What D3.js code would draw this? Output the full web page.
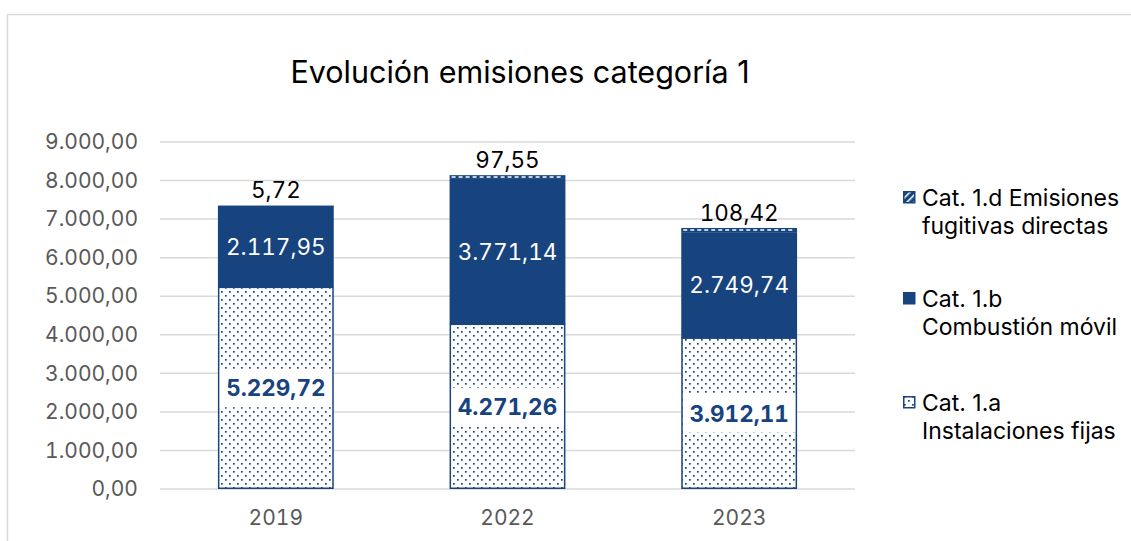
<!DOCTYPE html>
<html>
<head>
<meta charset="utf-8">
<script src="https://cdn.jsdelivr.net/npm/d3@7"></script>
<style>
  body { margin: 0; background: #fff; }
  svg { display: block; font-family: Inter, "Liberation Sans", Arial, sans-serif; }
  .num { font-variant-numeric: tabular-nums; }
</style>
</head>
<body>
<div id="chart"></div>
<script>
const years = ["2019", "2022", "2023"];
const cat1a = [5229.72, 4271.26, 3912.11];   // Instalaciones fijas
const cat1b = [2117.95, 3771.14, 2749.74];   // Combustión móvil
const cat1d = [5.72, 97.55, 108.42];         // Emisiones fugitivas directas
const yTicks = [0, 1000, 2000, 3000, 4000, 5000, 6000, 7000, 8000, 9000];

const W = 1131, H = 541;
const blue = "#17437f";
const font = "Inter, Liberation Sans, Arial, sans-serif";
const margin = { top: 142, right: 276, bottom: 52, left: 160 };
const width = W - margin.left - margin.right;
const height = H - margin.top - margin.bottom;

const fmt = v => {
  const [i, d] = v.toFixed(2).split(".");
  return i.replace(/\B(?=(\d{3})+(?!\d))/g, ".") + "," + d;
};

const svg = d3.select("#chart").append("svg").attr("width", W).attr("height", H);

const defs = svg.append("defs");
const dots = defs.append("pattern").attr("id", "dots")
  .attr("patternUnits", "userSpaceOnUse").attr("width", 8).attr("height", 8);
dots.append("rect").attr("width", 8).attr("height", 8).attr("fill", "#fff");
dots.append("rect").attr("x", 1).attr("y", 1).attr("width", 1.7).attr("height", 1.7).attr("fill", blue);
dots.append("rect").attr("x", 5).attr("y", 5).attr("width", 1.7).attr("height", 1.7).attr("fill", blue);

const hatch = defs.append("pattern").attr("id", "hatch")
  .attr("patternUnits", "userSpaceOnUse").attr("width", 5).attr("height", 5)
  .attr("patternTransform", "rotate(-45)");
hatch.append("rect").attr("width", 5).attr("height", 5).attr("fill", blue);
hatch.append("rect").attr("width", 5).attr("height", 1.5).attr("fill", "#fff");

// chart frame
svg.append("rect").attr("x", 7.5).attr("y", 14.5).attr("width", W).attr("height", H)
  .attr("fill", "none").attr("stroke", "#d9d9d9").attr("stroke-width", 1.5);

svg.append("text").attr("x", 520).attr("y", 72).attr("dy", "0.35em").attr("text-anchor", "middle")
  .attr("font-size", 30.5).attr("fill", "#000").text("Evolución emisiones categoría 1");

const g = svg.append("g").attr("transform", `translate(${margin.left},${margin.top})`);

const x = d3.scaleBand().domain(years).range([0, width]).paddingInner(0.5).paddingOuter(0.25);
const y = d3.scaleLinear().domain([0, 9000]).range([height, 0]);

g.append("g").selectAll("line").data(yTicks).join("line")
  .attr("x1", 0).attr("x2", width)
  .attr("y1", d => y(d)).attr("y2", d => y(d))
  .attr("stroke", "#d9d9d9").attr("stroke-width", 1.5);

const yAxis = g.append("g").call(d3.axisLeft(y).tickValues(yTicks).tickFormat(fmt).tickSize(0).tickPadding(22));
yAxis.select(".domain").remove();
yAxis.selectAll("text").attr("class", "num").attr("font-size", 21).attr("fill", "#595959").attr("font-family", font);

const xAxis = g.append("g").attr("transform", `translate(0,${height})`)
  .call(d3.axisBottom(x).tickSize(0).tickPadding(21));
xAxis.select(".domain").remove();
xAxis.selectAll("text").attr("class", "num").attr("font-size", 21).attr("fill", "#595959").attr("font-family", font);

const rows = years.map((yr, i) => ({ yr, a: cat1a[i], b: cat1b[i], d: cat1d[i] }));

// Cat 1.a
g.selectAll(".ba").data(rows).join("rect").attr("class", "ba")
  .attr("x", d => x(d.yr) + 0.75).attr("width", x.bandwidth() - 1.5)
  .attr("y", d => y(d.a)).attr("height", d => y(0) - y(d.a) - 0.75)
  .attr("fill", "url(#dots)").attr("stroke", blue).attr("stroke-width", 1.5);

// Cat 1.b
g.selectAll(".bb").data(rows).join("rect").attr("class", "bb")
  .attr("x", d => x(d.yr)).attr("width", x.bandwidth())
  .attr("y", d => y(d.a + d.b)).attr("height", d => y(d.a) - y(d.a + d.b))
  .attr("fill", blue);

// Cat 1.d
g.selectAll(".bd").data(rows).join("rect").attr("class", "bd")
  .attr("x", d => x(d.yr)).attr("width", x.bandwidth())
  .attr("y", d => y(d.a + d.b + d.d)).attr("height", d => y(d.a + d.b) - y(d.a + d.b + d.d))
  .attr("fill", blue);
g.selectAll(".bdl").data(rows.filter(d => y(d.a + d.b) - y(d.a + d.b + d.d) > 2)).join("line").attr("class", "bdl")
  .attr("x1", d => x(d.yr) + 2).attr("x2", d => x(d.yr) + x.bandwidth() - 2)
  .attr("y1", d => y(d.a + d.b + d.d / 2)).attr("y2", d => y(d.a + d.b + d.d / 2))
  .attr("stroke", "#fff").attr("stroke-width", 1.5).attr("stroke-dasharray", "4,3");

// labels 1.a with white box
const la = g.selectAll(".la").data(rows).join("g").attr("class", "la")
  .attr("transform", d => `translate(${x(d.yr) + x.bandwidth() / 2},${y(d.a / 2)})`);
la.append("rect").attr("x", -56).attr("y", -19).attr("width", 112).attr("height", 38).attr("fill", "#fff");
la.append("text").attr("class", "num").attr("text-anchor", "middle").attr("dy", "0.36em")
  .attr("font-size", 22.5).attr("font-weight", "bold").attr("fill", blue).text(d => fmt(d.a));

// labels 1.b
g.selectAll(".lb").data(rows).join("text").attr("class", "lb num")
  .attr("x", d => x(d.yr) + x.bandwidth() / 2).attr("y", d => y(d.a + d.b / 2)).attr("dy", "0.36em")
  .attr("text-anchor", "middle").attr("font-size", 22.5).attr("fill", "#fff").text(d => fmt(d.b));

// labels 1.d
g.selectAll(".ld").data(rows).join("text").attr("class", "ld num")
  .attr("x", d => x(d.yr) + x.bandwidth() / 2).attr("y", d => y(d.a + d.b + d.d) - 7)
  .attr("text-anchor", "middle").attr("font-size", 22.5).attr("fill", "#000").text(d => fmt(d.d));

// legend
const legendItems = [
  { fill: "url(#hatch)", lines: ["Cat. 1.d Emisiones", "fugitivas directas"], y: 198 },
  { fill: blue, lines: ["Cat. 1.b", "Combustión móvil"], y: 299 },
  { fill: "url(#dots)", lines: ["Cat. 1.a", "Instalaciones fijas"], y: 403 }
];
const lg = svg.append("g").selectAll("g").data(legendItems).join("g")
  .attr("transform", d => `translate(903,${d.y})`);
lg.append("rect").attr("x", 0.75).attr("y", -6.25).attr("width", 11).attr("height", 11)
  .attr("fill", d => d.fill).attr("stroke", blue).attr("stroke-width", 1.5);
lg.append("text").attr("font-size", 23).attr("fill", "#000")
  .selectAll("tspan").data(d => d.lines).join("tspan")
  .attr("x", 19).attr("y", (d, i) => i * 28).attr("dy", "0.36em").text(d => d);
</script>
</body>
</html>
